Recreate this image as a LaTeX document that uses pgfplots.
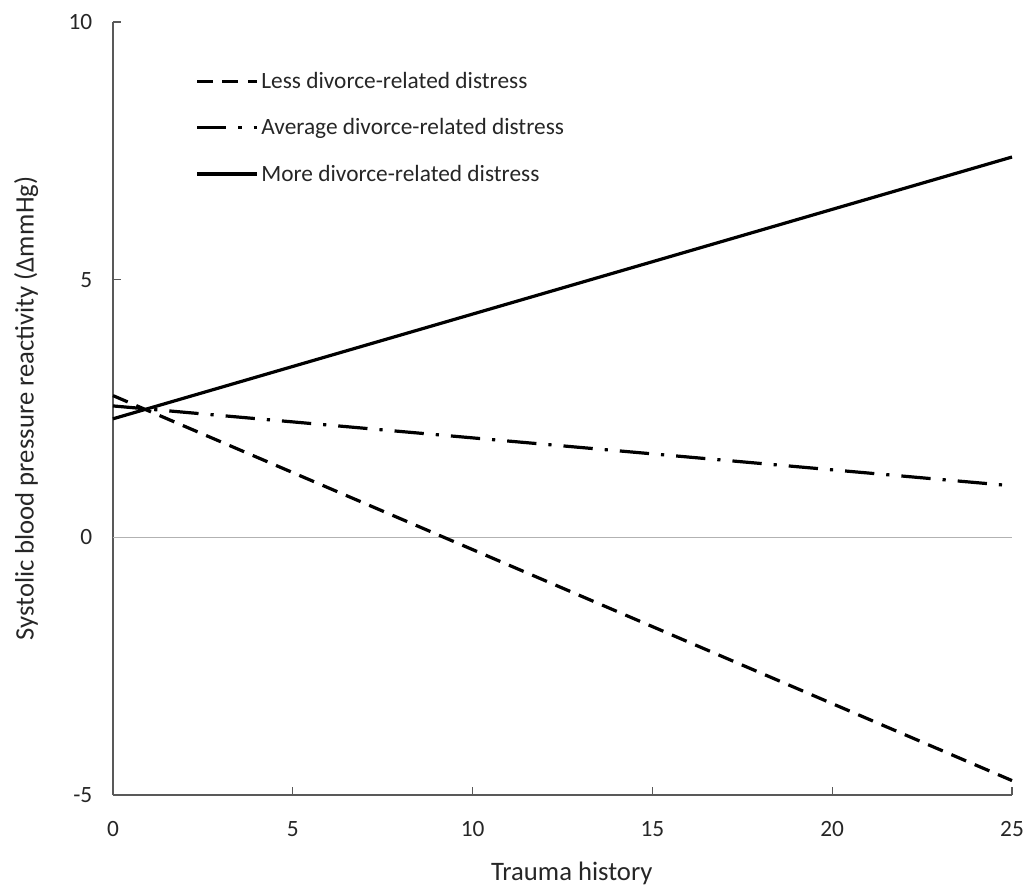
\documentclass[border=0pt]{standalone}
\usepackage{pgfplots}
\pgfplotsset{compat=1.18}
\usepackage{fontspec}
\setmainfont{Carlito}
\definecolor{axgray}{HTML}{595959}
\definecolor{txtgray}{HTML}{262626}
\begin{document}
\begin{tikzpicture}
\begin{axis}[
  scale only axis,
  width=674.25pt, height=579.75pt,
  xmin=0, xmax=25, ymin=-5, ymax=10,
  axis x line*=bottom, axis y line*=left,
  axis line style={axgray, line width=0.9pt, -},
  xtick={0,5,10,15,20,25},
  ytick={-5,0,5,10},
  yticklabels={-5,0,5,10},
  xticklabels={0,5,10,15,20,25},
  tick align=inside,
  major tick length=6pt,
  tick style={axgray, line width=0.9pt},
  tick label style={font=\fontsize{17.5}{21}\selectfont, text=txtgray},
  xticklabel style={yshift=-16pt},
  yticklabel style={xshift=-12pt},
  xlabel={Trauma history},
  ylabel={Systolic blood pressure reactivity (Δmm\kern0.5ptHg)},
  label style={font=\fontsize{20}{24}\selectfont, text=txtgray},
  xlabel style={yshift=-12pt, xshift=7pt},
  ylabel style={yshift=16pt},
  clip=false,
  legend style={at={(rel axis cs:0.087,0.942)}, anchor=north west, draw=none, fill=none,
    font=\fontsize{17.5}{21}\selectfont, text=txtgray,
    row sep=17pt, cells={anchor=west}},
  legend image code/.code={\draw[#1] (0pt,0pt) -- (45pt,0pt);},
]
\draw[gray!60, line width=0.8pt] (axis cs:0,0) -- (axis cs:25,0);
\addplot[black, line width=2.4pt, dash pattern=on 12pt off 7pt] coordinates {(0,2.75) (25,-4.72)};
\addlegendentry{Less divorce-related distress}
\addplot[black, line width=2.4pt, dash pattern=on 22pt off 9pt on 2.4pt off 9pt] coordinates {(0,2.55) (25,1.0)};
\addlegendentry{Average divorce-related distress}
\addplot[black, line width=2.4pt] coordinates {(0,2.3) (25,7.38)};
\addlegendentry{More divorce-related distress}
\end{axis}
\pgfresetboundingbox
\path ([shift={(-84.75pt,-69.75pt)}]current axis.south west) rectangle ([shift={(12.75pt,16.5pt)}]current axis.north east);
\end{tikzpicture}
\end{document}
